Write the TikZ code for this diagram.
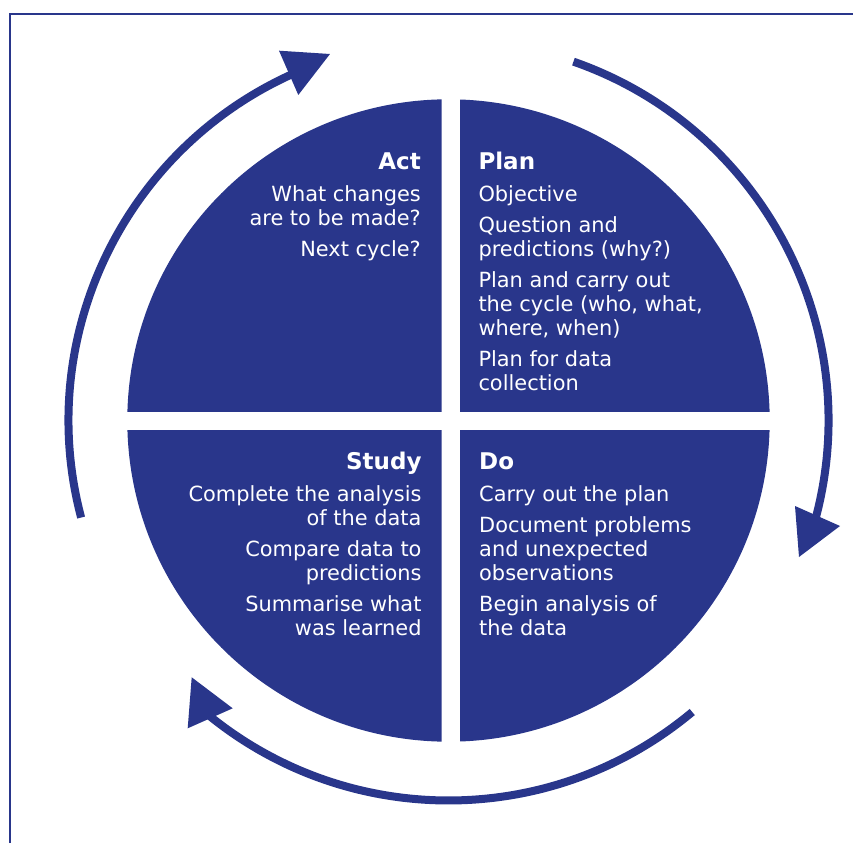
\documentclass[tikz,border=0pt]{standalone}
\usepackage{fontspec}
\setmainfont{DejaVu Sans}
\definecolor{pdsa}{RGB}{41,54,139}
\newcommand{\hd}[1]{{\fontsize{23}{24}\selectfont\bfseries #1}}
\begin{document}
\begin{tikzpicture}[x=1pt,y=1pt,
  quad/.style={fill=pdsa},
  ring/.style={draw=pdsa,line width=8pt},
  tip/.style={fill=pdsa},
  label/.style={text=white,inner sep=0pt,font=\fontsize{20.9}{24}\selectfont},
  frame/.style={draw=pdsa,line width=1.5pt}]
\useasboundingbox (-448.5,-422.5) rectangle (404.5,420.5);
% frame
\draw[frame] (-438.5,-422.5) -- (-438.5,406.5) -- (404.5,406.5);
% quadrants
\begin{scope}\clip (11.5,8.8) rectangle (400,400); \fill[quad] (0,0) circle[radius=321.2];\end{scope}
\begin{scope}\clip (-6.8,8.8) rectangle (-400,400); \fill[quad] (0,0) circle[radius=321.2];\end{scope}
\begin{scope}\clip (11.5,-9.5) rectangle (400,-400); \fill[quad] (0,0) circle[radius=321.2];\end{scope}
\begin{scope}\clip (-6.8,-9.5) rectangle (-400,-400); \fill[quad] (0,0) circle[radius=321.2];\end{scope}
% cycle arrows
\draw[ring] (194.8:380) arc[start angle=194.8,end angle=113.5,radius=380];
\fill[tip] (-169.5,369.8) -- (-118.5,366.5) -- (-150.2,325.5) -- cycle;
\draw[ring] (70.8:380) arc[start angle=70.8,end angle=-15.7,radius=380];
\fill[tip] (346.5,-85.5) -- (391.5,-105.5) -- (350.5,-136.5) -- cycle;
\draw[ring] (-50.1:380) arc[start angle=-50.1,end angle=-129.9,radius=380];
\fill[tip] (-256.8,-256.8) -- (-215.8,-287.8) -- (-260.8,-307.8) -- cycle;
% texts
\node[label,anchor=base east] (act) at (-27.5,251.2) {\begin{tabular}[t]{@{}r@{}}
\hd{Act}\\[8.4pt]
What changes\\
are to be made?\\[7pt]
Next cycle?
\end{tabular}};
\node[label,anchor=base west] (plan) at (29.8,251.2) {\begin{tabular}[t]{@{}l@{}}
\hd{Plan}\\[8.4pt]
Objective\\[7pt]
Question and\\
predictions (why?)\\[7pt]
Plan and carry out\\
the cycle (who, what,\\
where, when)\\[7pt]
Plan for data\\
collection
\end{tabular}};
\node[label,anchor=base east] (study) at (-26.8,-48.8) {\begin{tabular}[t]{@{}r@{}}
\hd{Study}\\[8.4pt]
Complete the analysis\\
of the data\\[7pt]
Compare data to\\
predictions\\[7pt]
Summarise what\\
was learned
\end{tabular}};
\node[label,anchor=base west] (do) at (30.5,-48.8) {\begin{tabular}[t]{@{}l@{}}
\hd{Do}\\[8.4pt]
Carry out the plan\\[7pt]
Document problems\\
and unexpected\\
observations\\[7pt]
Begin analysis of\\
the data
\end{tabular}};
\end{tikzpicture}
\end{document}
